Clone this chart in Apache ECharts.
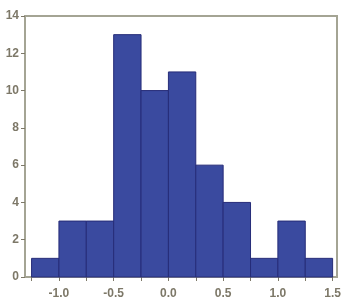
<!DOCTYPE html>
<html><head><meta charset="utf-8">
<script src="https://cdn.jsdelivr.net/npm/echarts@6/dist/echarts.min.js"></script>
<style>html,body{margin:0;padding:0;background:#fff}#c{width:348px;height:306px}</style>
</head><body><div id="c"></div>
<script>
const binStarts = [-1.25, -1.0, -0.75, -0.5, -0.25, 0.0, 0.25, 0.5, 0.75, 1.0, 1.25];
const binWidth = 0.25;
const counts = [1, 3, 3, 13, 10, 11, 6, 4, 1, 3, 1];
const xTickValues = [-1.25, -1.0, -0.75, -0.5, -0.25, 0.0, 0.25, 0.5, 0.75, 1.0, 1.25, 1.5];
const xLabelValues = [-1.0, -0.5, 0.0, 0.5, 1.0, 1.5];
const yTicks = [0, 2, 4, 6, 8, 10, 12, 14];

const data = binStarts.map((s, i) => [s, s + binWidth, counts[i]]);
const txt = {color: '#7d7868', fontFamily: 'Liberation Sans', fontWeight: 'bold', fontSize: 12};
const chart = echarts.init(document.getElementById('c'), null, {renderer: 'canvas'});
chart.setOption({
  animation: false,
  grid: {left: 25, top: 16, right: 11, bottom: 29, show: true, borderColor: '#a4a494', borderWidth: 2, backgroundColor: '#fff'},
  xAxis: {
    type: 'value', min: -1.31, max: 1.54,
    splitLine: {show: false},
    axisLine: {show: true, onZero: false, lineStyle: {color: '#a4a494', width: 2}},
    axisTick: {show: true, length: 4, customValues: xTickValues, lineStyle: {color: '#7d7868'}},
    axisLabel: Object.assign({margin: 11, customValues: xLabelValues, formatter: v => v.toFixed(1)}, txt)
  },
  yAxis: {
    type: 'value', min: 0, max: 14, interval: 2,
    splitLine: {show: false},
    axisLine: {show: true, onZero: false, lineStyle: {color: '#a4a494', width: 2}},
    axisTick: {show: true, length: 4, customValues: yTicks, lineStyle: {color: '#7d7868'}},
    axisLabel: Object.assign({margin: 6, customValues: yTicks}, txt)
  },
  series: [{
    type: 'custom',
    data: data,
    encode: {x: [0, 1], y: 2},
    renderItem: function (params, api) {
      const p0 = api.coord([api.value(0), 0]);
      const p1 = api.coord([api.value(1), api.value(2)]);
      return {
        type: 'rect',
        shape: {x: p0[0], y: p1[1], width: p1[0] - p0[0], height: p0[1] - p1[1]},
        style: {fill: '#3a4a9f', stroke: '#262c78', lineWidth: 1}
      };
    }
  }]
});
</script></body></html>
